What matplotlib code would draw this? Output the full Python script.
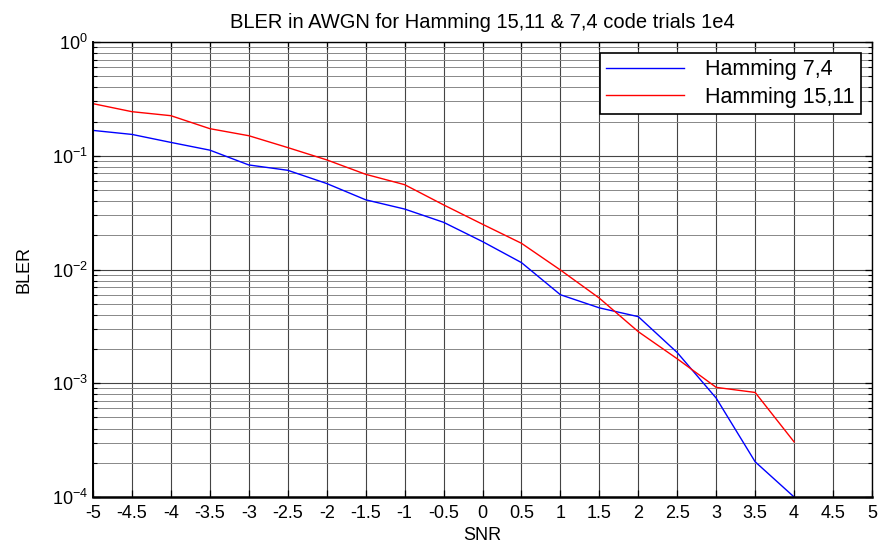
import numpy as np
import matplotlib
matplotlib.use("Agg")
import matplotlib.pyplot as plt
from matplotlib.ticker import LogLocator, FixedLocator, NullFormatter

plt.rcParams['font.family'] = ['Liberation Sans', 'DejaVu Sans']
plt.rcParams['mathtext.fontset'] = 'custom'
plt.rcParams['mathtext.rm'] = 'Liberation Sans'

snr = [-5, -4.5, -4, -3.5, -3, -2.5, -2, -1.5, -1, -0.5, 0, 0.5,
       1, 1.5, 2, 2.5, 3, 3.5, 4]
bler_74 = [0.167, 0.154, 0.131, 0.112, 0.083, 0.0745, 0.057, 0.041, 0.034,
           0.026, 0.0176, 0.0115, 0.006, 0.0046, 0.00385, 0.00186,
           0.00074, 0.000204, 0.0001]
bler_1511 = [0.287, 0.244, 0.225, 0.173, 0.150, 0.118, 0.092, 0.0687, 0.0557,
             0.037, 0.025, 0.017, 0.0099, 0.0056, 0.00284, 0.00164,
             0.00092, 0.00083, 0.000305]
xticks = [-5, -4.5, -4, -3.5, -3, -2.5, -2, -1.5, -1, -0.5, 0,
          0.5, 1, 1.5, 2, 2.5, 3, 3.5, 4, 4.5, 5]

fig = plt.figure(figsize=(8.8, 5.43), dpi=100)
ax = fig.add_axes([93 / 880, 1 - 497 / 543, (872 - 93) / 880, (497 - 42) / 543])

ax.semilogy(snr, bler_74, color='blue', lw=1.0, label='Hamming 7,4')
ax.semilogy(snr, bler_1511, color='red', lw=1.0, label='Hamming 15,11')

ax.set_xlim(-5, 5)
ax.set_ylim(1e-4, 1)
ax.xaxis.set_major_locator(FixedLocator(xticks))
ax.set_xticklabels([f"{v:g}" for v in xticks])
ax.yaxis.set_major_locator(LogLocator(base=10, numticks=10))
ax.yaxis.set_minor_locator(LogLocator(base=10, subs=np.arange(2, 10), numticks=10))
ax.yaxis.set_minor_formatter(NullFormatter())

ax.grid(True, which='major', color='#444444', lw=0.8)
ax.grid(True, which='minor', axis='y', color='#888888', lw=0.7)
ax.set_axisbelow(True)

ax.tick_params(which='both', direction='in', top=True, right=True, labelsize=13)
ax.tick_params(axis='x', pad=6)
ax.tick_params(which='major', length=5, width=0.9)
ax.tick_params(which='minor', length=3, width=0.8)
for s in ax.spines.values():
    s.set_linewidth(1.0)
ax.spines['bottom'].set_linewidth(1.8)
ax.spines['left'].set_linewidth(1.4)

ax.set_title('BLER in AWGN for Hamming 15,11 & 7,4 code trials 1e4', fontsize=14.5, pad=10)
ax.set_xlabel('SNR', fontsize=13, labelpad=3)
ax.set_ylabel('BLER', fontsize=13, labelpad=14)

leg = ax.legend(loc='upper right', fontsize=15.5, fancybox=False, framealpha=1,
                edgecolor='black', borderaxespad=0.5, handlelength=3.6,
                handletextpad=1.0, borderpad=0.3, labelspacing=0.3)
leg.get_frame().set_linewidth(1.2)

fig.savefig('out.png', dpi=100)
